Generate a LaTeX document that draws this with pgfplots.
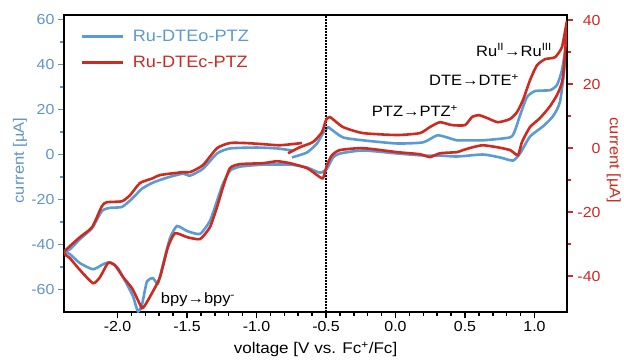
\documentclass[border=0pt]{standalone}
\usepackage{pgfplots}
\pgfplotsset{compat=1.18}
\usepackage{fontspec}
\setmainfont[FakeStretch=1.1]{Liberation Sans}
\definecolor{cblue}{RGB}{91,155,213}
\definecolor{cred}{RGB}{205,42,32}
\definecolor{tblue}{RGB}{95,148,205}
\begin{document}
\begin{tikzpicture}
\useasboundingbox (-64pt,-47pt) rectangle (560pt,312pt);
\begin{axis}[
  at={(0pt,0pt)}, anchor=south west,
  scale only axis, width=503pt, height=297pt,
  xmin=-2.385, xmax=1.234, ymin=-70, ymax=62,
  axis line style={line width=2.5pt, black},
  xtick pos=left, ytick pos=left,
  tick align=outside,
  xtick={-2,-1.5,...,1}, minor x tick num=4,
  ytick={-60,-40,...,60}, minor y tick num=1,
  major tick length=6pt, minor tick length=4pt,
  xtick style={black, line width=1.5pt},
  ytick style={tblue, line width=1.5pt},
  /pgf/number format/assume math mode=true,
  xticklabel style={/pgf/number format/.cd, fixed, fixed zerofill, precision=1},
  ticklabel style={font=\fontsize{14.5}{16}\selectfont},
  yticklabel style={tblue},
  xlabel={voltage [V vs. Fc\textsuperscript{+}/Fc]},
  ylabel={current [µA]},
  every axis x label/.style={at={(axis description cs:0.5,-0.125)}, anchor=center, font=\fontsize{15.5}{17}\selectfont},
  every axis y label/.style={at={(axis description cs:-0.0875,0.51)}, rotate=90, anchor=center, font=\fontsize{15}{17}\selectfont, text=tblue},
  legend style={at={(axis description cs:0.032,0.957)}, anchor=north west, draw=none, fill=none, inner sep=0pt, row sep=9pt, font=\fontsize{16.5}{18}\selectfont},
  legend cell align=left,
  legend image code/.code={\draw[#1] (0pt,0pt) -- (41pt,0pt);},
]
\addplot[cblue, line width=2.6pt, smooth, tension=0.35] coordinates {
(-0.745,1.8) (-0.853,2.7) (-0.996,3.1) (-1.191,2.7) (-1.284,0.45) (-1.385,-6.3)
(-1.478,-9.4) (-1.529,-8.5) (-1.644,-10.3) (-1.745,-12.5) (-1.824,-15.2) (-1.896,-19.7)
(-1.968,-23.3) (-2.054,-23.7) (-2.112,-25.1) (-2.183,-32.7) (-2.270,-37.6) (-2.342,-42.1)
(-2.385,-43.0)
(-2.342,-44.3) (-2.270,-48.3) (-2.176,-51.0) (-2.104,-48.8) (-2.054,-47.9) (-1.996,-50.6)
(-1.932,-57.7) (-1.888,-63.1) (-1.853,-69.8) (-1.824,-66.7) (-1.788,-56.4) (-1.745,-55.0)
(-1.709,-57.3) (-1.673,-48.8) (-1.622,-37.1) (-1.572,-31.8) (-1.500,-34.0) (-1.406,-35.3)
(-1.335,-29.5) (-1.284,-20.6) (-1.241,-13.0) (-1.191,-7.2) (-1.119,-5.4) (-0.953,-4.5)
(-0.759,-4.5) (-0.637,-5.8) (-0.543,-8.1) (-0.493,-6.3) (-0.450,-1.3) (-0.399,0.45)
(-0.234,1.8) (0.011,0.45) (0.198,-0.45) (0.320,-0.45) (0.442,-0.9) (0.629,0)
(0.752,-1.3) (0.845,-2.7) (0.896,0.45) (0.968,8.0) (1.061,12.5) (1.133,17.0)
(1.183,23.3) (1.219,40.3) (1.234,59)
(1.226,48.8) (1.198,37.6) (1.162,30.9) (1.112,28.6) (1.004,28.2) (0.946,25.5)
(0.896,17.4) (0.860,10.7) (0.824,7.6) (0.629,6.3) (0.536,6.3) (0.442,6.3)
(0.371,7.6) (0.299,8.5) (0.198,5.4) (0.011,4.9) (-0.234,6.3) (-0.378,7.6)
(-0.471,11.6) (-0.486,12.1) (-0.522,9.4) (-0.565,4.9) (-0.637,0.9) (-0.745,-1.3)
};
\addlegendentry{\hspace*{7pt}\textcolor{cblue}{Ru-DTEo-PTZ}}
\addlegendimage{cred, line width=2.6pt}
\addlegendentry{\hspace*{7pt}\textcolor{cred}{Ru-DTEc-PTZ}}
\addplot[black, line width=1.6pt, dash pattern=on 1.6pt off 1.4pt] coordinates {(-0.5,-70) (-0.5,62)};
\node[font=\fontsize{15}{17}\selectfont] at (axis cs:0.853,46.5) {Ru\textsuperscript{II}→Ru\textsuperscript{III}};
\node[font=\fontsize{15}{17}\selectfont] at (axis cs:0.565,33.1) {DTE→DTE\textsuperscript{+}};
\node[font=\fontsize{15}{17}\selectfont] at (axis cs:0.140,19.2) {PTZ→PTZ\textsuperscript{+}};
\node[font=\fontsize{15}{17}\selectfont] at (axis cs:-1.421,-64.4) {bpy→bpy\textsuperscript{-}};
\end{axis}
\begin{axis}[
  at={(0pt,0pt)}, anchor=south west,
  scale only axis, width=503pt, height=297pt,
  xmin=-2.385, xmax=1.234, ymin=-51.2, ymax=41.6,
  hide x axis,
  axis y line*=right,
  axis line style={line width=2.5pt, black},
  tick align=outside,
  ytick={-40,-20,...,40}, minor y tick num=1,
  major tick length=6pt, minor tick length=4pt,
  ytick style={cred, line width=1.5pt},
  /pgf/number format/assume math mode=true,
  ticklabel style={font=\fontsize{14.5}{16}\selectfont},
  yticklabel style={cred, text width=24pt, align=right},
  ylabel={current [µA]},
  every axis y label/.style={at={(axis description cs:1.093,0.51)}, rotate=-90, anchor=center, font=\fontsize{15}{17}\selectfont, text=cred},
]
\addplot[cred, line width=2.6pt, smooth, tension=0.35] coordinates {
(-0.673,1.6) (-0.831,0.9) (-0.953,1.25) (-1.083,1.6) (-1.191,1.6) (-1.284,0) (-1.385,-5.3)
(-1.478,-7.5) (-1.529,-7.5) (-1.694,-8.4) (-1.745,-9.4) (-1.838,-10.9) (-1.910,-14.7)
(-1.968,-16.6) (-2.076,-16.9) (-2.112,-18.1) (-2.183,-24.7) (-2.270,-27.8) (-2.385,-32.5)
(-2.342,-34.4) (-2.270,-38.1) (-2.176,-42.2) (-2.126,-40.3) (-2.068,-35.9) (-2.018,-36.6)
(-1.960,-40.3) (-1.896,-43.75) (-1.853,-47.5) (-1.824,-50.0) (-1.802,-49.1) (-1.752,-45.3)
(-1.694,-40.3) (-1.637,-30.9) (-1.586,-26.6) (-1.500,-27.8) (-1.406,-28.4) (-1.335,-24.7)
(-1.284,-18.4) (-1.241,-12.2) (-1.191,-6.25) (-1.119,-5.0) (-0.953,-4.7) (-0.853,-4.1)
(-0.759,-4.7) (-0.637,-6.25) (-0.565,-8.4) (-0.522,-9.4) (-0.493,-5.3) (-0.457,-2.2)
(-0.399,-0.6) (-0.234,0) (0.011,-1.25) (0.176,-1.9) (0.248,-2.8) (0.320,-1.6)
(0.442,-1.25) (0.486,-0.6) (0.558,0.3) (0.629,0.9) (0.730,0.3) (0.824,-0.6)
(0.881,-2.2) (0.910,1.9) (0.968,6.6) (1.040,9.4) (1.112,13.1) (1.169,17.2)
(1.205,22.2) (1.234,39.4)
(1.198,31.6) (1.147,28.4) (1.076,27.8) (1.018,25.9) (0.968,21.25) (0.917,15.0)
(0.874,11.25) (0.824,9.1) (0.737,8.1) (0.66,9.4) (0.60,10.3) (0.55,9.7) (0.50,7.2)
(0.406,7.2) (0.320,8.1) (0.248,6.6) (0.176,4.7) (0.011,4.1) (-0.234,4.7)
(-0.378,6.6) (-0.471,9.7) (-0.500,8.75) (-0.529,5.0) (-0.594,1.9) (-0.687,0.3)
(-0.773,-1.6)
};
\end{axis}
\end{tikzpicture}
\end{document}
